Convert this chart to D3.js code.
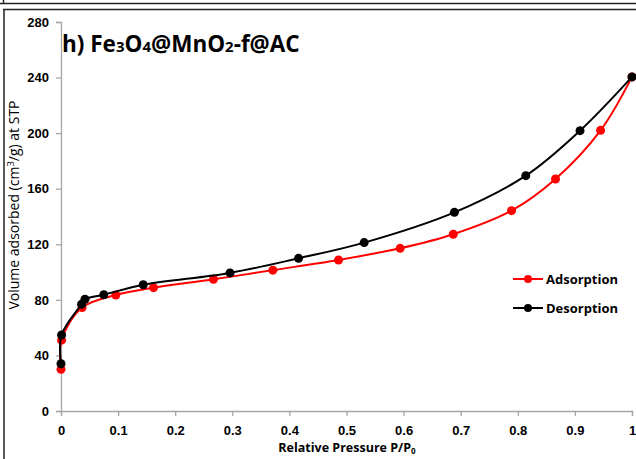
<!DOCTYPE html>
<html>
<head>
<meta charset="utf-8">
<script src="https://cdn.jsdelivr.net/npm/d3@7"></script>
<style>
  body { margin: 0; background: #fff; }
  svg { display: block; font-family: "Open Sans", "Liberation Sans", sans-serif; }
</style>
</head>
<body>
<div id="chart"></div>
<script>
// data
var adsP = [0, 0.001, 0.037, 0.096, 0.162, 0.267, 0.371, 0.486, 0.594, 0.687, 0.789, 0.866, 0.945, 1.0];
var adsV = [30, 51, 74.5, 83.5, 88.8, 94.8, 101.4, 108.7, 117.1, 127.2, 144.2, 167, 202, 240.5];
var desP = [1.0, 0.909, 0.814, 0.689, 0.531, 0.416, 0.296, 0.144, 0.075, 0.042, 0.036, 0.001, 0];
var desV = [240.5, 201.8, 169.4, 143, 121.2, 109.9, 99.4, 90.9, 83.7, 80.4, 76.8, 54.7, 34];
var xTicks = [0, 0.1, 0.2, 0.3, 0.4, 0.5, 0.6, 0.7, 0.8, 0.9, 1];
var yTicks = [0, 40, 80, 120, 160, 200, 240, 280];
var seriesNames = ["Adsorption", "Desorption"];
var seriesColors = ["#ff0000", "#000000"];

var width = 636, height = 459;
var margin = {top: 22, right: 4, bottom: 48, left: 61};

var svg = d3.select("#chart").append("svg")
    .attr("width", width)
    .attr("height", height);

// frame lines of the figure panel
svg.append("line").attr("x1", 0).attr("x2", width).attr("y1", 3.5).attr("y2", 3.5)
  .attr("stroke", "#222").attr("stroke-width", 1.5);
svg.append("line").attr("x1", 3.5).attr("x2", 3.5).attr("y1", 0).attr("y2", 4)
  .attr("stroke", "#222").attr("stroke-width", 1.5);
svg.append("line").attr("x1", 3).attr("x2", width).attr("y1", 9.5).attr("y2", 9.5)
  .attr("stroke", "#222").attr("stroke-width", 1.5);
svg.append("line").attr("x1", 4).attr("x2", 4).attr("y1", 9).attr("y2", height)
  .attr("stroke", "#222").attr("stroke-width", 1.5);

var x = d3.scaleLinear().domain([0, 1]).range([margin.left, width - margin.right]);
var y = d3.scaleLinear().domain([0, 280]).range([height - margin.bottom, margin.top]);

// x axis
var gx = svg.append("g")
  .attr("transform", "translate(0," + y(0) + ")")
  .call(d3.axisBottom(x).tickValues(xTicks).tickSize(5).tickPadding(10)
        .tickFormat(function(d) { return d; }));
gx.select(".domain").attr("stroke", "#a6a6a6").attr("stroke-width", 1.3);
gx.selectAll(".tick line").attr("stroke", "#a6a6a6").attr("stroke-width", 1.3);
gx.selectAll(".tick text").attr("font-size", 13).attr("font-weight", "bold").attr("fill", "#000");

// y axis
var gy = svg.append("g")
  .attr("transform", "translate(" + x(0) + ",0)")
  .call(d3.axisLeft(y).tickValues(yTicks).tickSize(5).tickPadding(7));
gy.select(".domain").attr("stroke", "#a6a6a6").attr("stroke-width", 1.3);
gy.selectAll(".tick line").attr("stroke", "#a6a6a6").attr("stroke-width", 1.3);
gy.selectAll(".tick text").attr("font-size", 13).attr("font-weight", "bold").attr("fill", "#000");

// axis titles
var xt = svg.append("text")
  .attr("x", 347).attr("y", 452)
  .attr("text-anchor", "middle")
  .attr("font-size", 12.5).attr("font-weight", "bold");
xt.append("tspan").text("Relative Pressure P/P");
xt.append("tspan").attr("font-size", 8).attr("dy", 2).text("0");

var yt = svg.append("text")
  .attr("transform", "translate(19,205) rotate(-90)")
  .attr("text-anchor", "middle")
  .attr("font-size", 14);
yt.append("tspan").text("Volume adsorbed (cm");
yt.append("tspan").attr("font-size", 9.5).attr("dy", -5).text("3");
yt.append("tspan").attr("dy", 5).text("/g) at STP");

// title
var title = svg.append("text")
  .attr("x", 62).attr("y", 52)
  .attr("font-size", 22.5).attr("font-weight", "bold");
title.append("tspan").text("h) Fe");
title.append("tspan").attr("font-size", 15).text("3");
title.append("tspan").text("O");
title.append("tspan").attr("font-size", 15).text("4");
title.append("tspan").text("@MnO");
title.append("tspan").attr("font-size", 15).text("2");
title.append("tspan").text("-f@AC");

// series
var series = [
  {name: seriesNames[0], color: seriesColors[0], pts: adsP.map(function(p, i) { return [p, adsV[i]]; })},
  {name: seriesNames[1], color: seriesColors[1], pts: desP.map(function(p, i) { return [p, desV[i]]; })}
];

var line = d3.line()
  .x(function(d) { return x(d[0]); })
  .y(function(d) { return y(d[1]); })
  .curve(d3.curveCatmullRom.alpha(0.5));

series.forEach(function(s) {
  svg.append("path")
    .datum(s.pts)
    .attr("fill", "none")
    .attr("stroke", s.color)
    .attr("stroke-width", 2)
    .attr("d", line);
  svg.selectAll(null)
    .data(s.pts)
    .enter().append("circle")
    .attr("cx", function(d) { return x(d[0]); })
    .attr("cy", function(d) { return y(d[1]); })
    .attr("r", 4.5)
    .attr("fill", s.color);
});

// legend
var legend = svg.append("g").attr("transform", "translate(513,279)");
series.forEach(function(s, i) {
  var g = legend.append("g").attr("transform", "translate(0," + (i * 29) + ")");
  g.append("line").attr("x1", 0).attr("x2", 30).attr("stroke", s.color).attr("stroke-width", 2);
  g.append("circle").attr("cx", 15).attr("r", 4).attr("fill", s.color);
  g.append("text").attr("x", 33).attr("y", 4.5)
    .attr("font-size", 13).attr("font-weight", "bold").text(s.name);
});
</script>
</body>
</html>
